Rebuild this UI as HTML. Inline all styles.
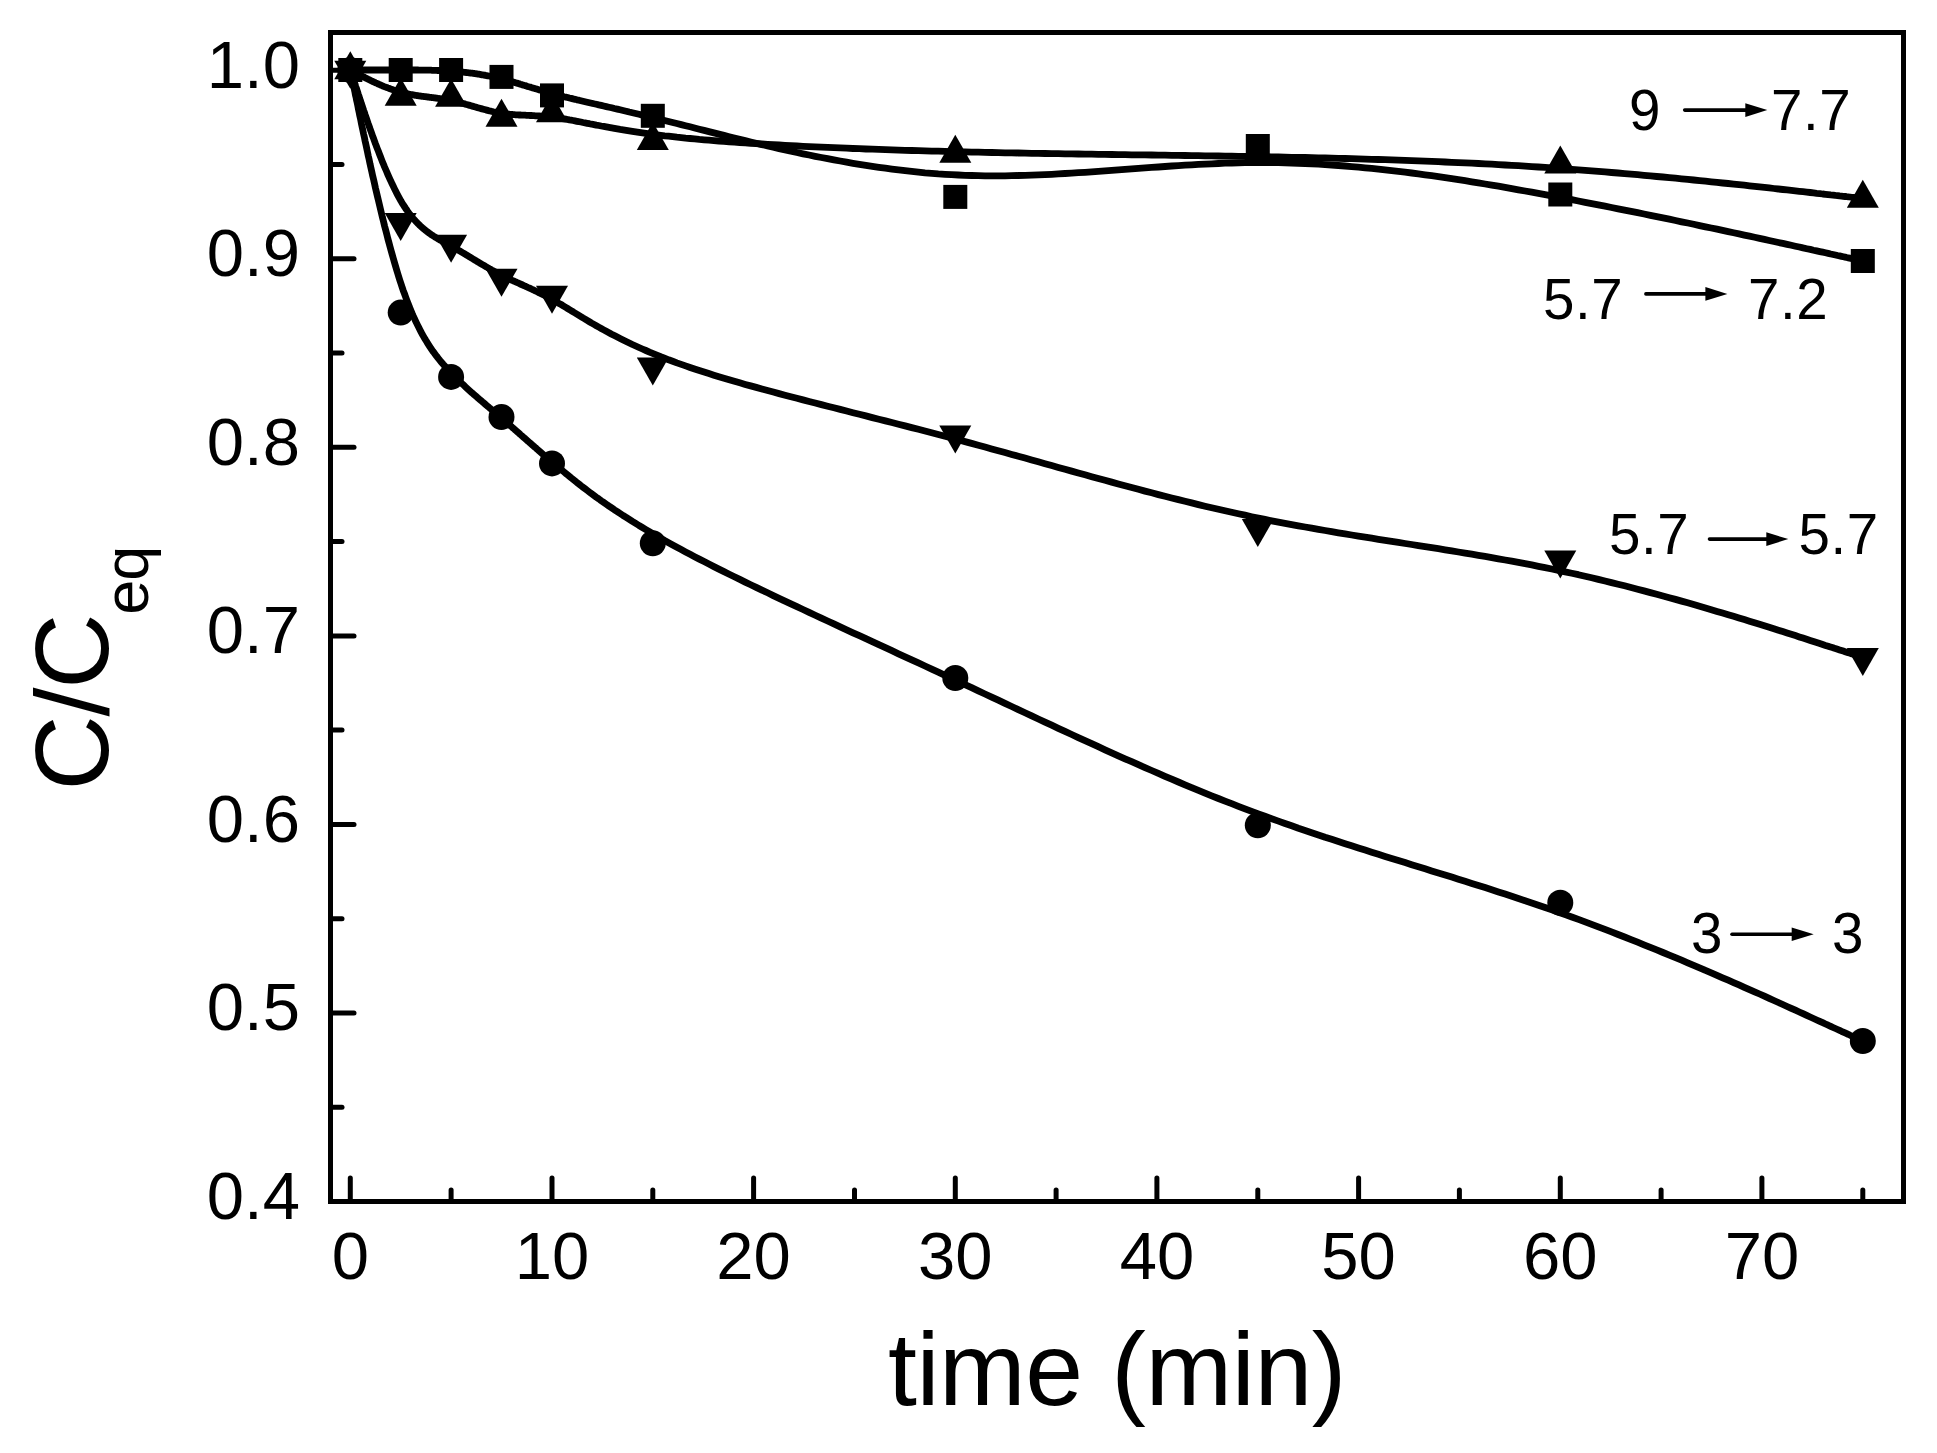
<!DOCTYPE html>
<html><head><meta charset="utf-8"><title>C/Ceq vs time</title>
<style>
html,body{margin:0;padding:0;background:#fff;}
body{width:1937px;height:1453px;overflow:hidden;}
svg{display:block;}
text{font-family:"Liberation Sans",Arial,Helvetica,sans-serif;fill:#000;}
.tick{font-size:67px;}
.ann{font-size:56.5px;letter-spacing:0.6px;}
.title{font-size:104px;}
</style></head><body>
<svg width="1937" height="1453" viewBox="0 0 1937 1453">
<rect x="0" y="0" width="1937" height="1453" fill="#fff"/>

<rect x="330.5" y="32.5" width="1573.0" height="1169.0" fill="none" stroke="#000" stroke-width="5"/>
<g stroke="#000" stroke-width="5" stroke-linecap="round">
<line x1="350.3" y1="1199.0" x2="350.3" y2="1178.0"/>
<line x1="451.1" y1="1199.0" x2="451.1" y2="1190.0"/>
<line x1="552.0" y1="1199.0" x2="552.0" y2="1178.0"/>
<line x1="652.8" y1="1199.0" x2="652.8" y2="1190.0"/>
<line x1="753.6" y1="1199.0" x2="753.6" y2="1178.0"/>
<line x1="854.5" y1="1199.0" x2="854.5" y2="1190.0"/>
<line x1="955.3" y1="1199.0" x2="955.3" y2="1178.0"/>
<line x1="1056.1" y1="1199.0" x2="1056.1" y2="1190.0"/>
<line x1="1156.9" y1="1199.0" x2="1156.9" y2="1178.0"/>
<line x1="1257.8" y1="1199.0" x2="1257.8" y2="1190.0"/>
<line x1="1358.6" y1="1199.0" x2="1358.6" y2="1178.0"/>
<line x1="1459.4" y1="1199.0" x2="1459.4" y2="1190.0"/>
<line x1="1560.3" y1="1199.0" x2="1560.3" y2="1178.0"/>
<line x1="1661.1" y1="1199.0" x2="1661.1" y2="1190.0"/>
<line x1="1761.9" y1="1199.0" x2="1761.9" y2="1178.0"/>
<line x1="1862.8" y1="1199.0" x2="1862.8" y2="1190.0"/>
<line x1="333.0" y1="1107.2" x2="342.0" y2="1107.2"/>
<line x1="333.0" y1="1013.0" x2="354.0" y2="1013.0"/>
<line x1="333.0" y1="918.7" x2="342.0" y2="918.7"/>
<line x1="333.0" y1="824.4" x2="354.0" y2="824.4"/>
<line x1="333.0" y1="730.1" x2="342.0" y2="730.1"/>
<line x1="333.0" y1="635.9" x2="354.0" y2="635.9"/>
<line x1="333.0" y1="541.6" x2="342.0" y2="541.6"/>
<line x1="333.0" y1="447.3" x2="354.0" y2="447.3"/>
<line x1="333.0" y1="353.0" x2="342.0" y2="353.0"/>
<line x1="333.0" y1="258.8" x2="354.0" y2="258.8"/>
<line x1="333.0" y1="164.5" x2="342.0" y2="164.5"/>
<line x1="333.0" y1="70.2" x2="354.0" y2="70.2"/>
</g>
<g class="tick">
<text x="350.3" y="1279" text-anchor="middle">0</text>
<text x="552.0" y="1279" text-anchor="middle">10</text>
<text x="753.6" y="1279" text-anchor="middle">20</text>
<text x="955.3" y="1279" text-anchor="middle">30</text>
<text x="1156.9" y="1279" text-anchor="middle">40</text>
<text x="1358.6" y="1279" text-anchor="middle">50</text>
<text x="1560.3" y="1279" text-anchor="middle">60</text>
<text x="1761.9" y="1279" text-anchor="middle">70</text>
<text x="300" y="1218.9" text-anchor="end">0.4</text>
<text x="300" y="1030.4" text-anchor="end">0.5</text>
<text x="300" y="841.8" text-anchor="end">0.6</text>
<text x="300" y="653.3" text-anchor="end">0.7</text>
<text x="300" y="464.7" text-anchor="end">0.8</text>
<text x="300" y="276.2" text-anchor="end">0.9</text>
<text x="300" y="87.6" text-anchor="end">1.0</text>
</g>
<text class="title" x="1117" y="1405" text-anchor="middle" letter-spacing="-0.4">time (min)</text>
<text class="title" transform="translate(107.6,790.6) rotate(-90)" letter-spacing="-1.1">C/C<tspan font-size="63" dy="40">eq</tspan></text>
<g fill="none" stroke="#000" stroke-width="6.8" stroke-linejoin="round" stroke-linecap="butt">
<path d="M350.3,70.0 L350.3,70.0 L350.3,70.0 L350.3,70.0 L350.3,70.0 L350.3,70.0 L350.3,70.0 L350.3,70.0 L350.3,70.0 L350.4,70.0 L350.4,70.0 L350.4,70.0 L350.5,70.0 L350.5,70.0 L350.5,70.0 L350.6,70.0 L350.7,70.0 L350.7,70.0 L350.8,70.0 L350.9,70.0 L351.0,70.0 L351.1,70.0 L351.3,70.0 L351.4,70.0 L351.5,70.0 L351.7,70.0 L351.9,70.0 L352.1,70.0 L352.3,70.0 L352.5,70.0 L352.7,70.0 L353.0,70.0 L353.2,70.0 L353.5,70.0 L353.8,70.0 L354.2,70.0 L354.5,70.0 L354.9,70.0 L355.2,70.0 L355.6,70.0 L356.1,70.0 L356.5,70.0 L357.0,70.0 L357.5,70.0 L358.0,70.0 L358.5,70.0 L359.1,70.0 L359.6,70.0 L360.3,70.0 L360.9,70.0 L361.5,70.0 L362.2,70.0 L362.9,70.0 L363.6,70.0 L364.4,70.0 L365.1,70.0 L365.9,70.0 L366.7,70.0 L367.5,70.0 L368.3,70.0 L369.2,70.0 L370.0,70.0 L370.9,70.0 L371.8,70.0 L372.7,70.0 L373.7,70.0 L374.6,70.0 L375.5,70.0 L376.5,70.0 L377.5,70.0 L378.5,70.0 L379.5,70.0 L380.5,70.0 L381.5,70.0 L382.5,70.0 L383.6,70.0 L384.6,70.0 L385.7,70.0 L386.8,70.0 L387.8,70.0 L388.9,70.0 L390.0,70.0 L391.1,70.0 L392.2,70.0 L393.3,70.0 L394.4,70.0 L395.5,70.0 L396.6,70.0 L397.7,70.0 L398.8,70.0 L399.9,70.0 L401.0,70.0 L402.1,70.0 L403.2,70.0 L404.4,70.0 L405.5,70.0 L406.6,70.0 L407.7,70.0 L408.8,70.0 L409.9,70.0 L411.0,70.0 L412.1,70.0 L413.2,70.0 L414.4,70.0 L415.5,70.0 L416.6,70.0 L417.7,70.0 L418.8,70.1 L419.9,70.1 L421.0,70.1 L422.1,70.1 L423.2,70.1 L424.4,70.1 L425.5,70.1 L426.6,70.2 L427.7,70.2 L428.8,70.2 L429.9,70.2 L431.0,70.2 L432.1,70.3 L433.2,70.3 L434.4,70.3 L435.5,70.4 L436.6,70.4 L437.7,70.5 L438.8,70.5 L439.9,70.5 L441.0,70.6 L442.1,70.6 L443.2,70.7 L444.4,70.7 L445.5,70.8 L446.6,70.9 L447.7,70.9 L448.8,71.0 L449.9,71.1 L451.0,71.1 L452.1,71.2 L453.3,71.3 L454.4,71.4 L455.5,71.5 L456.6,71.6 L457.7,71.7 L458.8,71.8 L459.9,71.9 L461.0,72.0 L462.1,72.1 L463.3,72.2 L464.4,72.3 L465.5,72.4 L466.6,72.6 L467.7,72.7 L468.8,72.8 L469.9,73.0 L471.0,73.1 L472.1,73.2 L473.3,73.4 L474.4,73.5 L475.5,73.7 L476.6,73.9 L477.7,74.0 L478.8,74.2 L479.9,74.4 L481.0,74.6 L482.1,74.8 L483.3,75.0 L484.4,75.1 L485.5,75.4 L486.6,75.6 L487.7,75.8 L488.8,76.0 L489.9,76.2 L491.0,76.4 L492.1,76.7 L493.3,76.9 L494.4,77.1 L495.5,77.4 L496.6,77.6 L497.7,77.9 L498.8,78.2 L499.9,78.4 L501.0,78.7 L502.2,79.0 L503.3,79.3 L504.4,79.6 L505.5,79.9 L506.6,80.2 L507.7,80.5 L508.8,80.8 L510.0,81.1 L511.1,81.4 L512.2,81.7 L513.4,82.1 L514.5,82.4 L515.7,82.8 L516.8,83.1 L518.0,83.4 L519.2,83.8 L520.3,84.2 L521.5,84.5 L522.7,84.9 L523.9,85.3 L525.2,85.6 L526.4,86.0 L527.6,86.4 L528.9,86.8 L530.2,87.1 L531.4,87.5 L532.7,87.9 L534.0,88.3 L535.4,88.7 L536.7,89.1 L538.1,89.5 L539.4,89.9 L540.8,90.3 L542.2,90.7 L543.6,91.2 L545.1,91.6 L546.6,92.0 L548.0,92.4 L549.5,92.8 L551.1,93.2 L552.6,93.7 L554.2,94.1 L555.8,94.5 L557.4,94.9 L559.0,95.4 L560.7,95.8 L562.4,96.2 L564.1,96.7 L565.8,97.1 L567.6,97.5 L569.4,98.0 L571.2,98.4 L573.1,98.9 L575.0,99.3 L576.9,99.8 L578.9,100.2 L580.9,100.7 L583.0,101.2 L585.1,101.7 L587.2,102.2 L589.4,102.7 L591.7,103.2 L594.0,103.8 L596.3,104.3 L598.8,104.9 L601.2,105.4 L603.7,106.0 L606.3,106.6 L609.0,107.2 L611.7,107.8 L614.4,108.5 L617.3,109.1 L620.1,109.8 L623.1,110.5 L626.2,111.2 L629.3,112.0 L632.4,112.7 L635.7,113.5 L639.0,114.3 L642.4,115.1 L645.9,115.9 L649.5,116.8 L653.2,117.7 L656.9,118.6 L660.7,119.5 L664.6,120.5 L668.6,121.5 L672.7,122.5 L676.9,123.5 L681.2,124.6 L685.6,125.7 L690.1,126.8 L694.6,128.0 L699.3,129.2 L704.1,130.4 L708.9,131.6 L713.9,132.9 L718.9,134.1 L724.0,135.4 L729.2,136.7 L734.4,138.0 L739.8,139.3 L745.2,140.6 L750.7,142.0 L756.2,143.3 L761.9,144.6 L767.6,145.9 L773.3,147.3 L779.1,148.6 L785.0,149.9 L790.9,151.2 L796.9,152.5 L803.0,153.8 L809.1,155.0 L815.2,156.3 L821.4,157.5 L827.6,158.7 L833.9,159.9 L840.2,161.0 L846.6,162.2 L853.0,163.3 L859.4,164.3 L865.9,165.4 L872.3,166.4 L878.8,167.3 L885.4,168.2 L891.9,169.1 L898.5,169.9 L905.1,170.7 L911.7,171.4 L918.4,172.1 L925.0,172.8 L931.7,173.3 L938.3,173.9 L945.0,174.3 L951.6,174.7 L958.3,175.0 L965.0,175.3 L971.6,175.5 L978.3,175.7 L985.0,175.8 L991.7,175.8 L998.3,175.8 L1005.0,175.8 L1011.7,175.7 L1018.3,175.5 L1025.0,175.3 L1031.7,175.1 L1038.3,174.9 L1045.0,174.6 L1051.7,174.3 L1058.3,173.9 L1065.0,173.5 L1071.7,173.1 L1078.3,172.7 L1085.0,172.3 L1091.7,171.8 L1098.3,171.4 L1105.0,170.9 L1111.7,170.4 L1118.3,169.9 L1125.0,169.4 L1131.7,168.9 L1138.4,168.4 L1145.0,167.9 L1151.7,167.4 L1158.4,167.0 L1165.0,166.5 L1171.7,166.0 L1178.4,165.6 L1185.0,165.2 L1191.7,164.8 L1198.4,164.4 L1205.0,164.1 L1211.7,163.8 L1218.4,163.5 L1225.0,163.2 L1231.7,163.0 L1238.4,162.8 L1245.0,162.7 L1251.7,162.6 L1258.4,162.6 L1265.0,162.6 L1271.7,162.6 L1278.4,162.7 L1285.0,162.9 L1291.7,163.0 L1298.4,163.3 L1305.1,163.5 L1311.7,163.9 L1318.4,164.2 L1325.1,164.6 L1331.7,165.0 L1338.4,165.5 L1345.1,166.0 L1351.7,166.6 L1358.4,167.2 L1365.1,167.8 L1371.7,168.4 L1378.4,169.1 L1385.1,169.9 L1391.7,170.6 L1398.4,171.4 L1405.1,172.2 L1411.7,173.0 L1418.4,173.9 L1425.1,174.8 L1431.7,175.7 L1438.4,176.7 L1445.1,177.7 L1451.8,178.7 L1458.4,179.7 L1465.1,180.7 L1471.8,181.8 L1478.4,182.9 L1485.1,184.0 L1491.8,185.1 L1498.4,186.2 L1505.1,187.4 L1511.8,188.6 L1518.4,189.8 L1525.1,191.0 L1531.8,192.2 L1538.4,193.4 L1545.1,194.6 L1551.8,195.9 L1558.4,197.2 L1565.1,198.4 L1571.8,199.7 L1578.4,201.0 L1585.1,202.3 L1591.7,203.6 L1598.3,204.9 L1605.0,206.2 L1611.5,207.5 L1618.1,208.8 L1624.6,210.1 L1631.1,211.4 L1637.6,212.7 L1644.0,214.0 L1650.4,215.3 L1656.7,216.6 L1663.0,217.9 L1669.3,219.2 L1675.5,220.5 L1681.6,221.8 L1687.7,223.0 L1693.7,224.3 L1699.6,225.6 L1705.5,226.8 L1711.3,228.0 L1717.0,229.2 L1722.6,230.4 L1728.2,231.6 L1733.6,232.8 L1739.0,233.9 L1744.3,235.1 L1749.5,236.2 L1754.6,237.3 L1759.6,238.4 L1764.4,239.4 L1769.2,240.5 L1773.9,241.5 L1778.4,242.5 L1782.8,243.4 L1787.1,244.4 L1791.3,245.3 L1795.4,246.2 L1799.3,247.0 L1803.0,247.9 L1806.7,248.7 L1810.2,249.4 L1813.5,250.2 L1816.7,250.9 L1819.8,251.6 L1822.7,252.2 L1825.5,252.8 L1828.2,253.4 L1830.7,254.0 L1833.1,254.5 L1835.4,255.0 L1837.6,255.5 L1839.6,255.9 L1841.5,256.3 L1843.3,256.7 L1845.1,257.1 L1846.7,257.5 L1848.2,257.8 L1849.6,258.1 L1850.9,258.4 L1852.1,258.7 L1853.3,258.9 L1854.3,259.1 L1855.3,259.4 L1856.2,259.6 L1857.0,259.7 L1857.7,259.9 L1858.4,260.1 L1859.0,260.2 L1859.6,260.3 L1860.1,260.4 L1860.5,260.5 L1860.9,260.6 L1861.3,260.7 L1861.6,260.7 L1861.8,260.8 L1862.0,260.8 L1862.2,260.9 L1862.4,260.9 L1862.5,260.9 L1862.6,261.0 L1862.6,261.0 L1862.7,261.0 L1862.7,261.0 L1862.7,261.0 L1862.7,261.0 L1862.7,261.0 L1862.7,261.0"/>
<path d="M350.3,70.0 L350.3,70.0 L350.3,70.0 L350.3,70.0 L350.3,70.0 L350.3,70.0 L350.3,70.0 L350.3,70.0 L350.3,70.0 L350.4,70.0 L350.4,70.0 L350.4,70.1 L350.5,70.1 L350.5,70.1 L350.5,70.1 L350.6,70.2 L350.7,70.2 L350.7,70.2 L350.8,70.3 L350.9,70.3 L351.0,70.4 L351.1,70.4 L351.3,70.5 L351.4,70.6 L351.5,70.7 L351.7,70.7 L351.9,70.8 L352.1,70.9 L352.3,71.0 L352.5,71.1 L352.7,71.3 L353.0,71.4 L353.2,71.5 L353.5,71.7 L353.8,71.9 L354.2,72.0 L354.5,72.2 L354.9,72.4 L355.2,72.6 L355.6,72.8 L356.1,73.0 L356.5,73.2 L357.0,73.5 L357.5,73.7 L358.0,74.0 L358.5,74.3 L359.1,74.6 L359.6,74.9 L360.3,75.2 L360.9,75.5 L361.5,75.9 L362.2,76.2 L362.9,76.6 L363.6,77.0 L364.4,77.3 L365.1,77.7 L365.9,78.1 L366.7,78.5 L367.5,78.9 L368.3,79.3 L369.2,79.7 L370.0,80.2 L370.9,80.6 L371.8,81.0 L372.7,81.5 L373.7,81.9 L374.6,82.3 L375.5,82.8 L376.5,83.2 L377.5,83.6 L378.5,84.1 L379.5,84.5 L380.5,85.0 L381.5,85.4 L382.5,85.8 L383.6,86.3 L384.6,86.7 L385.7,87.1 L386.8,87.5 L387.8,87.9 L388.9,88.3 L390.0,88.7 L391.1,89.1 L392.2,89.5 L393.3,89.9 L394.4,90.3 L395.5,90.6 L396.6,91.0 L397.7,91.3 L398.8,91.6 L399.9,91.9 L401.0,92.2 L402.1,92.5 L403.2,92.8 L404.4,93.1 L405.5,93.4 L406.6,93.6 L407.7,93.8 L408.8,94.1 L409.9,94.3 L411.0,94.5 L412.1,94.7 L413.2,94.9 L414.4,95.1 L415.5,95.3 L416.6,95.5 L417.7,95.6 L418.8,95.8 L419.9,96.0 L421.0,96.1 L422.1,96.3 L423.2,96.4 L424.4,96.6 L425.5,96.7 L426.6,96.9 L427.7,97.0 L428.8,97.1 L429.9,97.3 L431.0,97.4 L432.1,97.6 L433.2,97.7 L434.4,97.9 L435.5,98.0 L436.6,98.1 L437.7,98.3 L438.8,98.5 L439.9,98.6 L441.0,98.8 L442.1,99.0 L443.2,99.1 L444.4,99.3 L445.5,99.5 L446.6,99.7 L447.7,99.9 L448.8,100.1 L449.9,100.3 L451.0,100.5 L452.1,100.8 L453.3,101.0 L454.4,101.3 L455.5,101.5 L456.6,101.8 L457.7,102.1 L458.8,102.4 L459.9,102.6 L461.0,102.9 L462.1,103.2 L463.3,103.5 L464.4,103.8 L465.5,104.2 L466.6,104.5 L467.7,104.8 L468.8,105.1 L469.9,105.4 L471.0,105.7 L472.1,106.1 L473.3,106.4 L474.4,106.7 L475.5,107.0 L476.6,107.4 L477.7,107.7 L478.8,108.0 L479.9,108.3 L481.0,108.6 L482.1,108.9 L483.3,109.2 L484.4,109.5 L485.5,109.8 L486.6,110.1 L487.7,110.4 L488.8,110.7 L489.9,111.0 L491.0,111.2 L492.1,111.5 L493.3,111.8 L494.4,112.0 L495.5,112.2 L496.6,112.5 L497.7,112.7 L498.8,112.9 L499.9,113.1 L501.0,113.3 L502.2,113.4 L503.3,113.6 L504.4,113.7 L505.5,113.9 L506.6,114.0 L507.7,114.1 L508.8,114.2 L510.0,114.3 L511.1,114.4 L512.2,114.5 L513.4,114.6 L514.5,114.7 L515.7,114.8 L516.8,114.8 L518.0,114.9 L519.2,115.0 L520.3,115.0 L521.5,115.1 L522.7,115.1 L523.9,115.2 L525.2,115.2 L526.4,115.3 L527.6,115.4 L528.9,115.4 L530.2,115.5 L531.4,115.5 L532.7,115.6 L534.0,115.7 L535.4,115.8 L536.7,115.8 L538.1,115.9 L539.4,116.0 L540.8,116.1 L542.2,116.2 L543.6,116.3 L545.1,116.5 L546.6,116.6 L548.0,116.8 L549.5,116.9 L551.1,117.1 L552.6,117.3 L554.2,117.5 L555.8,117.7 L557.4,117.9 L559.0,118.1 L560.7,118.4 L562.4,118.6 L564.1,118.9 L565.8,119.2 L567.6,119.5 L569.4,119.9 L571.2,120.2 L573.1,120.5 L575.0,120.9 L576.9,121.3 L578.9,121.7 L580.9,122.0 L583.0,122.5 L585.1,122.9 L587.2,123.3 L589.4,123.7 L591.7,124.2 L594.0,124.6 L596.3,125.1 L598.8,125.5 L601.2,126.0 L603.7,126.4 L606.3,126.9 L609.0,127.4 L611.7,127.9 L614.4,128.4 L617.3,128.9 L620.1,129.4 L623.1,129.8 L626.2,130.3 L629.3,130.8 L632.4,131.3 L635.7,131.8 L639.0,132.3 L642.4,132.8 L645.9,133.3 L649.5,133.8 L653.2,134.3 L656.9,134.8 L660.7,135.3 L664.6,135.8 L668.6,136.2 L672.7,136.7 L676.9,137.2 L681.2,137.6 L685.6,138.1 L690.1,138.5 L694.6,138.9 L699.3,139.4 L704.1,139.8 L708.9,140.2 L713.9,140.6 L718.9,141.0 L724.0,141.4 L729.2,141.8 L734.4,142.2 L739.8,142.6 L745.2,142.9 L750.7,143.3 L756.2,143.7 L761.9,144.0 L767.6,144.3 L773.3,144.7 L779.1,145.0 L785.0,145.3 L790.9,145.6 L796.9,146.0 L803.0,146.3 L809.1,146.6 L815.2,146.8 L821.4,147.1 L827.6,147.4 L833.9,147.7 L840.2,147.9 L846.6,148.2 L853.0,148.5 L859.4,148.7 L865.9,149.0 L872.3,149.2 L878.8,149.4 L885.4,149.6 L891.9,149.9 L898.5,150.1 L905.1,150.3 L911.7,150.5 L918.4,150.7 L925.0,150.9 L931.7,151.1 L938.3,151.2 L945.0,151.4 L951.6,151.6 L958.3,151.8 L965.0,151.9 L971.6,152.1 L978.3,152.2 L985.0,152.4 L991.7,152.5 L998.3,152.6 L1005.0,152.8 L1011.7,152.9 L1018.3,153.0 L1025.0,153.1 L1031.7,153.3 L1038.3,153.4 L1045.0,153.5 L1051.7,153.6 L1058.3,153.7 L1065.0,153.8 L1071.7,153.9 L1078.3,154.0 L1085.0,154.1 L1091.7,154.2 L1098.3,154.3 L1105.0,154.4 L1111.7,154.5 L1118.3,154.6 L1125.0,154.7 L1131.7,154.8 L1138.4,154.8 L1145.0,154.9 L1151.7,155.0 L1158.4,155.1 L1165.0,155.2 L1171.7,155.3 L1178.4,155.4 L1185.0,155.5 L1191.7,155.6 L1198.4,155.7 L1205.0,155.8 L1211.7,155.9 L1218.4,156.0 L1225.0,156.1 L1231.7,156.2 L1238.4,156.3 L1245.0,156.4 L1251.7,156.5 L1258.4,156.6 L1265.0,156.7 L1271.7,156.9 L1278.4,157.0 L1285.0,157.1 L1291.7,157.3 L1298.4,157.4 L1305.1,157.5 L1311.7,157.7 L1318.4,157.8 L1325.1,158.0 L1331.7,158.2 L1338.4,158.3 L1345.1,158.5 L1351.7,158.7 L1358.4,158.9 L1365.1,159.1 L1371.7,159.3 L1378.4,159.5 L1385.1,159.7 L1391.7,159.9 L1398.4,160.1 L1405.1,160.4 L1411.7,160.6 L1418.4,160.9 L1425.1,161.1 L1431.7,161.4 L1438.4,161.7 L1445.1,162.0 L1451.8,162.3 L1458.4,162.6 L1465.1,162.9 L1471.8,163.2 L1478.4,163.5 L1485.1,163.9 L1491.8,164.2 L1498.4,164.6 L1505.1,165.0 L1511.8,165.3 L1518.4,165.7 L1525.1,166.1 L1531.8,166.6 L1538.4,167.0 L1545.1,167.4 L1551.8,167.9 L1558.4,168.3 L1565.1,168.8 L1571.8,169.3 L1578.4,169.8 L1585.1,170.3 L1591.7,170.8 L1598.3,171.4 L1605.0,171.9 L1611.5,172.5 L1618.1,173.0 L1624.6,173.6 L1631.1,174.1 L1637.6,174.7 L1644.0,175.3 L1650.4,175.9 L1656.7,176.5 L1663.0,177.0 L1669.3,177.6 L1675.5,178.2 L1681.6,178.8 L1687.7,179.4 L1693.7,180.0 L1699.6,180.6 L1705.5,181.2 L1711.3,181.8 L1717.0,182.4 L1722.6,183.0 L1728.2,183.5 L1733.6,184.1 L1739.0,184.7 L1744.3,185.2 L1749.5,185.8 L1754.6,186.3 L1759.6,186.9 L1764.4,187.4 L1769.2,187.9 L1773.9,188.5 L1778.4,189.0 L1782.8,189.5 L1787.1,189.9 L1791.3,190.4 L1795.4,190.9 L1799.3,191.3 L1803.0,191.7 L1806.7,192.1 L1810.2,192.5 L1813.5,192.9 L1816.7,193.3 L1819.8,193.6 L1822.7,194.0 L1825.5,194.3 L1828.2,194.6 L1830.7,194.9 L1833.1,195.1 L1835.4,195.4 L1837.6,195.6 L1839.6,195.9 L1841.5,196.1 L1843.3,196.3 L1845.1,196.5 L1846.7,196.7 L1848.2,196.8 L1849.6,197.0 L1850.9,197.2 L1852.1,197.3 L1853.3,197.4 L1854.3,197.5 L1855.3,197.7 L1856.2,197.8 L1857.0,197.8 L1857.7,197.9 L1858.4,198.0 L1859.0,198.1 L1859.6,198.1 L1860.1,198.2 L1860.5,198.2 L1860.9,198.3 L1861.3,198.3 L1861.6,198.4 L1861.8,198.4 L1862.0,198.4 L1862.2,198.4 L1862.4,198.5 L1862.5,198.5 L1862.6,198.5 L1862.6,198.5 L1862.7,198.5 L1862.7,198.5 L1862.7,198.5 L1862.7,198.5 L1862.7,198.5 L1862.7,198.5"/>
<path d="M350.3,70.0 L350.3,70.0 L350.3,70.0 L350.3,70.0 L350.3,70.0 L350.3,70.0 L350.3,70.1 L350.3,70.1 L350.3,70.1 L350.4,70.2 L350.4,70.3 L350.4,70.4 L350.5,70.5 L350.5,70.6 L350.5,70.7 L350.6,70.9 L350.7,71.1 L350.7,71.3 L350.8,71.6 L350.9,71.9 L351.0,72.2 L351.1,72.5 L351.3,72.9 L351.4,73.3 L351.5,73.8 L351.7,74.2 L351.9,74.8 L352.1,75.4 L352.3,76.0 L352.5,76.6 L352.7,77.3 L353.0,78.1 L353.2,78.9 L353.5,79.8 L353.8,80.7 L354.2,81.7 L354.5,82.7 L354.9,83.8 L355.2,84.9 L355.6,86.1 L356.1,87.4 L356.5,88.7 L357.0,90.1 L357.5,91.6 L358.0,93.2 L358.5,94.8 L359.1,96.5 L359.6,98.2 L360.3,100.1 L360.9,102.0 L361.5,103.9 L362.2,105.9 L362.9,108.0 L363.6,110.1 L364.4,112.3 L365.1,114.5 L365.9,116.8 L366.7,119.1 L367.5,121.5 L368.3,123.9 L369.2,126.3 L370.0,128.7 L370.9,131.2 L371.8,133.7 L372.7,136.3 L373.7,138.8 L374.6,141.3 L375.5,143.9 L376.5,146.5 L377.5,149.1 L378.5,151.6 L379.5,154.2 L380.5,156.8 L381.5,159.4 L382.5,161.9 L383.6,164.5 L384.6,167.0 L385.7,169.5 L386.8,172.0 L387.8,174.5 L388.9,176.9 L390.0,179.3 L391.1,181.7 L392.2,184.1 L393.3,186.3 L394.4,188.6 L395.5,190.8 L396.6,193.0 L397.7,195.1 L398.8,197.1 L399.9,199.1 L401.0,201.1 L402.1,202.9 L403.2,204.7 L404.4,206.5 L405.5,208.2 L406.6,209.8 L407.7,211.4 L408.8,212.9 L409.9,214.4 L411.0,215.8 L412.1,217.2 L413.2,218.5 L414.4,219.8 L415.5,221.0 L416.6,222.2 L417.7,223.3 L418.8,224.4 L419.9,225.5 L421.0,226.5 L422.1,227.5 L423.2,228.5 L424.4,229.4 L425.5,230.3 L426.6,231.2 L427.7,232.0 L428.8,232.9 L429.9,233.6 L431.0,234.4 L432.1,235.2 L433.2,235.9 L434.4,236.6 L435.5,237.3 L436.6,238.0 L437.7,238.6 L438.8,239.3 L439.9,239.9 L441.0,240.5 L442.1,241.2 L443.2,241.8 L444.4,242.4 L445.5,243.0 L446.6,243.6 L447.7,244.2 L448.8,244.8 L449.9,245.4 L451.0,246.0 L452.1,246.6 L453.3,247.3 L454.4,247.9 L455.5,248.5 L456.6,249.2 L457.7,249.8 L458.8,250.4 L459.9,251.1 L461.0,251.7 L462.1,252.4 L463.3,253.1 L464.4,253.7 L465.5,254.4 L466.6,255.1 L467.7,255.7 L468.8,256.4 L469.9,257.1 L471.0,257.7 L472.1,258.4 L473.3,259.1 L474.4,259.8 L475.5,260.4 L476.6,261.1 L477.7,261.8 L478.8,262.4 L479.9,263.1 L481.0,263.8 L482.1,264.4 L483.3,265.1 L484.4,265.7 L485.5,266.4 L486.6,267.0 L487.7,267.7 L488.8,268.3 L489.9,269.0 L491.0,269.6 L492.1,270.2 L493.3,270.8 L494.4,271.4 L495.5,272.1 L496.6,272.7 L497.7,273.2 L498.8,273.8 L499.9,274.4 L501.0,275.0 L502.2,275.5 L503.3,276.1 L504.4,276.6 L505.5,277.2 L506.6,277.7 L507.7,278.2 L508.8,278.8 L510.0,279.3 L511.1,279.8 L512.2,280.3 L513.4,280.8 L514.5,281.4 L515.7,281.9 L516.8,282.4 L518.0,282.9 L519.2,283.4 L520.3,284.0 L521.5,284.5 L522.7,285.0 L523.9,285.6 L525.2,286.1 L526.4,286.7 L527.6,287.3 L528.9,287.8 L530.2,288.4 L531.4,289.0 L532.7,289.6 L534.0,290.2 L535.4,290.9 L536.7,291.5 L538.1,292.2 L539.4,292.9 L540.8,293.5 L542.2,294.3 L543.6,295.0 L545.1,295.7 L546.6,296.5 L548.0,297.3 L549.5,298.1 L551.1,298.9 L552.6,299.7 L554.2,300.6 L555.8,301.5 L557.4,302.4 L559.0,303.4 L560.7,304.3 L562.4,305.3 L564.1,306.4 L565.8,307.4 L567.6,308.5 L569.4,309.6 L571.2,310.7 L573.1,311.8 L575.0,313.0 L576.9,314.2 L578.9,315.4 L580.9,316.6 L583.0,317.9 L585.1,319.1 L587.2,320.4 L589.4,321.7 L591.7,323.1 L594.0,324.4 L596.3,325.7 L598.8,327.1 L601.2,328.5 L603.7,329.9 L606.3,331.3 L609.0,332.7 L611.7,334.2 L614.4,335.6 L617.3,337.1 L620.1,338.5 L623.1,340.0 L626.2,341.5 L629.3,343.0 L632.4,344.5 L635.7,346.0 L639.0,347.5 L642.4,349.0 L645.9,350.5 L649.5,352.1 L653.2,353.6 L656.9,355.1 L660.7,356.7 L664.6,358.2 L668.6,359.8 L672.7,361.3 L676.9,362.9 L681.2,364.4 L685.6,365.9 L690.1,367.5 L694.6,369.0 L699.3,370.5 L704.1,372.1 L708.9,373.6 L713.9,375.2 L718.9,376.7 L724.0,378.2 L729.2,379.8 L734.4,381.3 L739.8,382.8 L745.2,384.4 L750.7,385.9 L756.2,387.4 L761.9,389.0 L767.6,390.5 L773.3,392.1 L779.1,393.6 L785.0,395.2 L790.9,396.8 L796.9,398.3 L803.0,399.9 L809.1,401.5 L815.2,403.0 L821.4,404.6 L827.6,406.2 L833.9,407.8 L840.2,409.4 L846.6,411.0 L853.0,412.7 L859.4,414.3 L865.9,415.9 L872.3,417.6 L878.8,419.2 L885.4,420.9 L891.9,422.5 L898.5,424.2 L905.1,425.9 L911.7,427.6 L918.4,429.3 L925.0,431.0 L931.7,432.8 L938.3,434.5 L945.0,436.3 L951.6,438.0 L958.3,439.8 L965.0,441.6 L971.6,443.4 L978.3,445.2 L985.0,447.0 L991.7,448.9 L998.3,450.7 L1005.0,452.5 L1011.7,454.4 L1018.3,456.2 L1025.0,458.1 L1031.7,460.0 L1038.3,461.8 L1045.0,463.7 L1051.7,465.5 L1058.3,467.4 L1065.0,469.3 L1071.7,471.1 L1078.3,473.0 L1085.0,474.8 L1091.7,476.7 L1098.3,478.5 L1105.0,480.3 L1111.7,482.1 L1118.3,484.0 L1125.0,485.8 L1131.7,487.5 L1138.4,489.3 L1145.0,491.1 L1151.7,492.8 L1158.4,494.6 L1165.0,496.3 L1171.7,498.0 L1178.4,499.6 L1185.0,501.3 L1191.7,502.9 L1198.4,504.6 L1205.0,506.2 L1211.7,507.7 L1218.4,509.3 L1225.0,510.8 L1231.7,512.3 L1238.4,513.8 L1245.0,515.2 L1251.7,516.7 L1258.4,518.1 L1265.0,519.4 L1271.7,520.8 L1278.4,522.1 L1285.0,523.3 L1291.7,524.6 L1298.4,525.8 L1305.1,527.0 L1311.7,528.2 L1318.4,529.4 L1325.1,530.5 L1331.7,531.7 L1338.4,532.8 L1345.1,533.9 L1351.7,535.0 L1358.4,536.1 L1365.1,537.1 L1371.7,538.2 L1378.4,539.3 L1385.1,540.3 L1391.7,541.4 L1398.4,542.4 L1405.1,543.5 L1411.7,544.5 L1418.4,545.6 L1425.1,546.6 L1431.7,547.7 L1438.4,548.7 L1445.1,549.8 L1451.8,550.9 L1458.4,552.0 L1465.1,553.1 L1471.8,554.2 L1478.4,555.3 L1485.1,556.4 L1491.8,557.6 L1498.4,558.8 L1505.1,560.0 L1511.8,561.2 L1518.4,562.4 L1525.1,563.7 L1531.8,564.9 L1538.4,566.3 L1545.1,567.6 L1551.8,569.0 L1558.4,570.4 L1565.1,571.8 L1571.8,573.3 L1578.4,574.7 L1585.1,576.3 L1591.7,577.8 L1598.3,579.4 L1605.0,581.0 L1611.5,582.6 L1618.1,584.2 L1624.6,585.8 L1631.1,587.5 L1637.6,589.2 L1644.0,590.9 L1650.4,592.6 L1656.7,594.3 L1663.0,596.0 L1669.3,597.7 L1675.5,599.4 L1681.6,601.1 L1687.7,602.8 L1693.7,604.6 L1699.6,606.3 L1705.5,608.0 L1711.3,609.7 L1717.0,611.4 L1722.6,613.0 L1728.2,614.7 L1733.6,616.3 L1739.0,618.0 L1744.3,619.6 L1749.5,621.2 L1754.6,622.8 L1759.6,624.3 L1764.4,625.8 L1769.2,627.3 L1773.9,628.8 L1778.4,630.2 L1782.8,631.6 L1787.1,633.0 L1791.3,634.3 L1795.4,635.6 L1799.3,636.9 L1803.0,638.1 L1806.7,639.3 L1810.2,640.4 L1813.5,641.5 L1816.7,642.5 L1819.8,643.5 L1822.7,644.5 L1825.5,645.4 L1828.2,646.2 L1830.7,647.1 L1833.1,647.8 L1835.4,648.6 L1837.6,649.3 L1839.6,649.9 L1841.5,650.5 L1843.3,651.1 L1845.1,651.7 L1846.7,652.2 L1848.2,652.7 L1849.6,653.1 L1850.9,653.6 L1852.1,654.0 L1853.3,654.3 L1854.3,654.7 L1855.3,655.0 L1856.2,655.3 L1857.0,655.5 L1857.7,655.8 L1858.4,656.0 L1859.0,656.2 L1859.6,656.4 L1860.1,656.5 L1860.5,656.7 L1860.9,656.8 L1861.3,656.9 L1861.6,657.0 L1861.8,657.1 L1862.0,657.2 L1862.2,657.2 L1862.4,657.3 L1862.5,657.3 L1862.6,657.3 L1862.6,657.4 L1862.7,657.4 L1862.7,657.4 L1862.7,657.4 L1862.7,657.4 L1862.7,657.4 L1862.7,657.4"/>
<path d="M350.3,70.0 L350.3,70.0 L350.3,70.0 L350.3,70.0 L350.3,70.0 L350.3,70.1 L350.3,70.1 L350.3,70.1 L350.3,70.2 L350.4,70.3 L350.4,70.4 L350.4,70.6 L350.5,70.7 L350.5,71.0 L350.5,71.2 L350.6,71.5 L350.7,71.8 L350.7,72.1 L350.8,72.5 L350.9,73.0 L351.0,73.5 L351.1,74.0 L351.3,74.6 L351.4,75.3 L351.5,76.0 L351.7,76.8 L351.9,77.6 L352.1,78.5 L352.3,79.5 L352.5,80.6 L352.7,81.7 L353.0,82.9 L353.2,84.2 L353.5,85.6 L353.8,87.0 L354.2,88.6 L354.5,90.2 L354.9,91.9 L355.2,93.8 L355.6,95.7 L356.1,97.7 L356.5,99.9 L357.0,102.1 L357.5,104.4 L358.0,106.9 L358.5,109.5 L359.1,112.2 L359.6,115.0 L360.3,117.9 L360.9,120.9 L361.5,124.0 L362.2,127.2 L362.9,130.6 L363.6,134.0 L364.4,137.4 L365.1,141.0 L365.9,144.6 L366.7,148.3 L367.5,152.1 L368.3,156.0 L369.2,159.8 L370.0,163.8 L370.9,167.8 L371.8,171.8 L372.7,175.9 L373.7,180.0 L374.6,184.1 L375.5,188.3 L376.5,192.4 L377.5,196.6 L378.5,200.8 L379.5,205.1 L380.5,209.3 L381.5,213.5 L382.5,217.7 L383.6,221.9 L384.6,226.1 L385.7,230.2 L386.8,234.4 L387.8,238.5 L388.9,242.5 L390.0,246.6 L391.1,250.6 L392.2,254.5 L393.3,258.4 L394.4,262.2 L395.5,266.0 L396.6,269.7 L397.7,273.4 L398.8,276.9 L399.9,280.4 L401.0,283.8 L402.1,287.1 L403.2,290.4 L404.4,293.5 L405.5,296.6 L406.6,299.6 L407.7,302.5 L408.8,305.3 L409.9,308.1 L411.0,310.7 L412.1,313.4 L413.2,315.9 L414.4,318.4 L415.5,320.8 L416.6,323.1 L417.7,325.4 L418.8,327.6 L419.9,329.8 L421.0,331.9 L422.1,334.0 L423.2,335.9 L424.4,337.9 L425.5,339.8 L426.6,341.6 L427.7,343.4 L428.8,345.1 L429.9,346.8 L431.0,348.5 L432.1,350.1 L433.2,351.7 L434.4,353.2 L435.5,354.7 L436.6,356.2 L437.7,357.6 L438.8,359.0 L439.9,360.4 L441.0,361.7 L442.1,363.0 L443.2,364.3 L444.4,365.6 L445.5,366.8 L446.6,368.0 L447.7,369.2 L448.8,370.4 L449.9,371.6 L451.0,372.8 L452.1,373.9 L453.3,375.0 L454.4,376.2 L455.5,377.3 L456.6,378.4 L457.7,379.5 L458.8,380.6 L459.9,381.6 L461.0,382.7 L462.1,383.7 L463.3,384.8 L464.4,385.8 L465.5,386.9 L466.6,387.9 L467.7,388.9 L468.8,389.9 L469.9,390.9 L471.0,391.9 L472.1,392.9 L473.3,393.9 L474.4,394.9 L475.5,395.8 L476.6,396.8 L477.7,397.8 L478.8,398.7 L479.9,399.7 L481.0,400.6 L482.1,401.6 L483.3,402.5 L484.4,403.5 L485.5,404.4 L486.6,405.4 L487.7,406.3 L488.8,407.2 L489.9,408.2 L491.0,409.1 L492.1,410.1 L493.3,411.0 L494.4,411.9 L495.5,412.9 L496.6,413.8 L497.7,414.8 L498.8,415.7 L499.9,416.7 L501.0,417.6 L502.2,418.6 L503.3,419.5 L504.4,420.5 L505.5,421.5 L506.6,422.4 L507.7,423.4 L508.8,424.4 L510.0,425.4 L511.1,426.3 L512.2,427.3 L513.4,428.3 L514.5,429.3 L515.7,430.3 L516.8,431.4 L518.0,432.4 L519.2,433.4 L520.3,434.5 L521.5,435.5 L522.7,436.6 L523.9,437.6 L525.2,438.7 L526.4,439.8 L527.6,440.9 L528.9,442.0 L530.2,443.1 L531.4,444.2 L532.7,445.3 L534.0,446.5 L535.4,447.6 L536.7,448.8 L538.1,450.0 L539.4,451.2 L540.8,452.4 L542.2,453.6 L543.6,454.8 L545.1,456.0 L546.6,457.3 L548.0,458.6 L549.5,459.8 L551.1,461.1 L552.6,462.4 L554.2,463.8 L555.8,465.1 L557.4,466.5 L559.0,467.8 L560.7,469.2 L562.4,470.6 L564.1,472.0 L565.8,473.5 L567.6,474.9 L569.4,476.4 L571.2,477.9 L573.1,479.4 L575.0,480.9 L576.9,482.5 L578.9,484.0 L580.9,485.6 L583.0,487.2 L585.1,488.8 L587.2,490.4 L589.4,492.1 L591.7,493.8 L594.0,495.5 L596.3,497.2 L598.8,498.9 L601.2,500.7 L603.7,502.4 L606.3,504.2 L609.0,506.1 L611.7,507.9 L614.4,509.8 L617.3,511.6 L620.1,513.5 L623.1,515.5 L626.2,517.4 L629.3,519.4 L632.4,521.4 L635.7,523.4 L639.0,525.5 L642.4,527.5 L645.9,529.6 L649.5,531.7 L653.2,533.9 L656.9,536.1 L660.7,538.2 L664.6,540.5 L668.6,542.7 L672.7,545.0 L676.9,547.3 L681.2,549.6 L685.6,551.9 L690.1,554.3 L694.6,556.7 L699.3,559.1 L704.1,561.6 L708.9,564.1 L713.9,566.6 L718.9,569.1 L724.0,571.6 L729.2,574.2 L734.4,576.8 L739.8,579.4 L745.2,582.1 L750.7,584.7 L756.2,587.4 L761.9,590.1 L767.6,592.8 L773.3,595.6 L779.1,598.3 L785.0,601.1 L790.9,603.9 L796.9,606.7 L803.0,609.5 L809.1,612.4 L815.2,615.3 L821.4,618.1 L827.6,621.0 L833.9,623.9 L840.2,626.9 L846.6,629.8 L853.0,632.8 L859.4,635.7 L865.9,638.7 L872.3,641.7 L878.8,644.7 L885.4,647.7 L891.9,650.7 L898.5,653.8 L905.1,656.8 L911.7,659.9 L918.4,662.9 L925.0,666.0 L931.7,669.1 L938.3,672.2 L945.0,675.3 L951.6,678.4 L958.3,681.5 L965.0,684.6 L971.6,687.7 L978.3,690.9 L985.0,694.0 L991.7,697.1 L998.3,700.2 L1005.0,703.4 L1011.7,706.5 L1018.3,709.6 L1025.0,712.8 L1031.7,715.9 L1038.3,719.0 L1045.0,722.1 L1051.7,725.2 L1058.3,728.3 L1065.0,731.4 L1071.7,734.5 L1078.3,737.6 L1085.0,740.6 L1091.7,743.7 L1098.3,746.7 L1105.0,749.8 L1111.7,752.8 L1118.3,755.8 L1125.0,758.8 L1131.7,761.7 L1138.4,764.7 L1145.0,767.6 L1151.7,770.5 L1158.4,773.4 L1165.0,776.3 L1171.7,779.2 L1178.4,782.0 L1185.0,784.8 L1191.7,787.6 L1198.4,790.3 L1205.0,793.1 L1211.7,795.8 L1218.4,798.5 L1225.0,801.1 L1231.7,803.7 L1238.4,806.3 L1245.0,808.9 L1251.7,811.4 L1258.4,813.9 L1265.0,816.3 L1271.7,818.8 L1278.4,821.1 L1285.0,823.5 L1291.7,825.8 L1298.4,828.2 L1305.1,830.4 L1311.7,832.7 L1318.4,834.9 L1325.1,837.2 L1331.7,839.3 L1338.4,841.5 L1345.1,843.7 L1351.7,845.8 L1358.4,848.0 L1365.1,850.1 L1371.7,852.2 L1378.4,854.3 L1385.1,856.4 L1391.7,858.4 L1398.4,860.5 L1405.1,862.6 L1411.7,864.7 L1418.4,866.7 L1425.1,868.8 L1431.7,870.9 L1438.4,872.9 L1445.1,875.0 L1451.8,877.1 L1458.4,879.2 L1465.1,881.3 L1471.8,883.4 L1478.4,885.5 L1485.1,887.6 L1491.8,889.7 L1498.4,891.9 L1505.1,894.1 L1511.8,896.3 L1518.4,898.5 L1525.1,900.7 L1531.8,902.9 L1538.4,905.2 L1545.1,907.5 L1551.8,909.8 L1558.4,912.2 L1565.1,914.6 L1571.8,917.0 L1578.4,919.4 L1585.1,921.9 L1591.7,924.4 L1598.3,926.9 L1605.0,929.4 L1611.5,931.9 L1618.1,934.5 L1624.6,937.0 L1631.1,939.6 L1637.6,942.2 L1644.0,944.8 L1650.4,947.4 L1656.7,949.9 L1663.0,952.5 L1669.3,955.1 L1675.5,957.7 L1681.6,960.2 L1687.7,962.8 L1693.7,965.3 L1699.6,967.8 L1705.5,970.4 L1711.3,972.8 L1717.0,975.3 L1722.6,977.8 L1728.2,980.2 L1733.6,982.6 L1739.0,984.9 L1744.3,987.3 L1749.5,989.6 L1754.6,991.8 L1759.6,994.0 L1764.4,996.2 L1769.2,998.4 L1773.9,1000.5 L1778.4,1002.5 L1782.8,1004.5 L1787.1,1006.5 L1791.3,1008.4 L1795.4,1010.2 L1799.3,1012.0 L1803.0,1013.7 L1806.7,1015.4 L1810.2,1017.0 L1813.5,1018.5 L1816.7,1020.0 L1819.8,1021.4 L1822.7,1022.7 L1825.5,1024.0 L1828.2,1025.2 L1830.7,1026.4 L1833.1,1027.5 L1835.4,1028.5 L1837.6,1029.5 L1839.6,1030.4 L1841.5,1031.3 L1843.3,1032.1 L1845.1,1032.9 L1846.7,1033.6 L1848.2,1034.3 L1849.6,1035.0 L1850.9,1035.6 L1852.1,1036.1 L1853.3,1036.7 L1854.3,1037.1 L1855.3,1037.6 L1856.2,1038.0 L1857.0,1038.4 L1857.7,1038.7 L1858.4,1039.0 L1859.0,1039.3 L1859.6,1039.6 L1860.1,1039.8 L1860.5,1040.0 L1860.9,1040.2 L1861.3,1040.3 L1861.6,1040.5 L1861.8,1040.6 L1862.0,1040.7 L1862.2,1040.8 L1862.4,1040.8 L1862.5,1040.9 L1862.6,1040.9 L1862.6,1040.9 L1862.7,1041.0 L1862.7,1041.0 L1862.7,1041.0 L1862.7,1041.0 L1862.7,1041.0 L1862.7,1041.0"/>
</g>
<g fill="#000" stroke="none">
<rect x="338.3" y="58.0" width="24" height="24"/>
<rect x="388.7" y="58.0" width="24" height="24"/>
<rect x="439.1" y="58.0" width="24" height="24"/>
<rect x="489.5" y="64.9" width="24" height="24"/>
<rect x="540.0" y="83.4" width="24" height="24"/>
<rect x="640.8" y="103.8" width="24" height="24"/>
<rect x="943.3" y="184.9" width="24" height="24"/>
<rect x="1245.8" y="134.0" width="24" height="24"/>
<rect x="1548.3" y="182.5" width="24" height="24"/>
<rect x="1850.8" y="249.0" width="24" height="24"/>
<circle cx="350.3" cy="70.0" r="13"/>
<circle cx="400.7" cy="312.6" r="13"/>
<circle cx="451.1" cy="376.9" r="13"/>
<circle cx="501.5" cy="417.0" r="13"/>
<circle cx="552.0" cy="463.4" r="13"/>
<circle cx="652.8" cy="543.2" r="13"/>
<circle cx="955.3" cy="678.0" r="13"/>
<circle cx="1257.8" cy="825.3" r="13"/>
<circle cx="1560.3" cy="902.7" r="13"/>
<circle cx="1862.8" cy="1041.0" r="13"/>
<polygon points="350.3,51.3 366.3,79.3 334.3,79.3"/>
<polygon points="400.7,77.7 416.7,105.7 384.7,105.7"/>
<polygon points="451.1,78.7 467.1,106.7 435.1,106.7"/>
<polygon points="501.5,98.7 517.5,126.7 485.5,126.7"/>
<polygon points="552.0,94.3 568.0,122.3 536.0,122.3"/>
<polygon points="652.8,121.9 668.8,149.9 636.8,149.9"/>
<polygon points="955.3,134.8 971.3,162.8 939.3,162.8"/>
<polygon points="1257.8,136.8 1273.8,164.8 1241.8,164.8"/>
<polygon points="1560.3,145.5 1576.3,173.5 1544.3,173.5"/>
<polygon points="1862.8,179.8 1878.8,207.8 1846.8,207.8"/>
<polygon points="350.3,88.7 366.3,60.7 334.3,60.7"/>
<polygon points="400.7,241.0 416.7,213.0 384.7,213.0"/>
<polygon points="451.1,262.7 467.1,234.7 435.1,234.7"/>
<polygon points="501.5,296.8 517.5,268.8 485.5,268.8"/>
<polygon points="552.0,313.7 568.0,285.7 536.0,285.7"/>
<polygon points="652.8,385.6 668.8,357.6 636.8,357.6"/>
<polygon points="955.3,453.4 971.3,425.4 939.3,425.4"/>
<polygon points="1257.8,547.0 1273.8,519.0 1241.8,519.0"/>
<polygon points="1560.3,578.4 1576.3,550.4 1544.3,550.4"/>
<polygon points="1862.8,676.1 1878.8,648.1 1846.8,648.1"/>
</g>
<g class="ann">
<text x="1629" y="130">9</text>
<line x1="1684.7" y1="110.1" x2="1749.3" y2="110.1" stroke="#000" stroke-width="3.6" stroke-linecap="round"/><polygon points="1767.3,110.1 1745.3,103.3 1745.3,116.89999999999999" fill="#000"/>
<text x="1771" y="130">7.7</text>
<text x="1543" y="319">5.7</text>
<line x1="1645.9" y1="293.9" x2="1709.4" y2="293.9" stroke="#000" stroke-width="3.6" stroke-linecap="round"/><polygon points="1727.4,293.9 1705.4,287.09999999999997 1705.4,300.7" fill="#000"/>
<text x="1748" y="319">7.2</text>
<text x="1609" y="554">5.7</text>
<line x1="1709.5" y1="539.1" x2="1770.3" y2="539.1" stroke="#000" stroke-width="3.6" stroke-linecap="round"/><polygon points="1788.3,539.1 1766.3,532.3000000000001 1766.3,545.9" fill="#000"/>
<text x="1798.5" y="554">5.7</text>
<text x="1691" y="953">3</text>
<line x1="1732.0" y1="934.2" x2="1795.7" y2="934.2" stroke="#000" stroke-width="3.6" stroke-linecap="round"/><polygon points="1813.7,934.2 1791.7,927.4000000000001 1791.7,941.0" fill="#000"/>
<text x="1832" y="953">3</text>
</g>
</svg></body></html>
